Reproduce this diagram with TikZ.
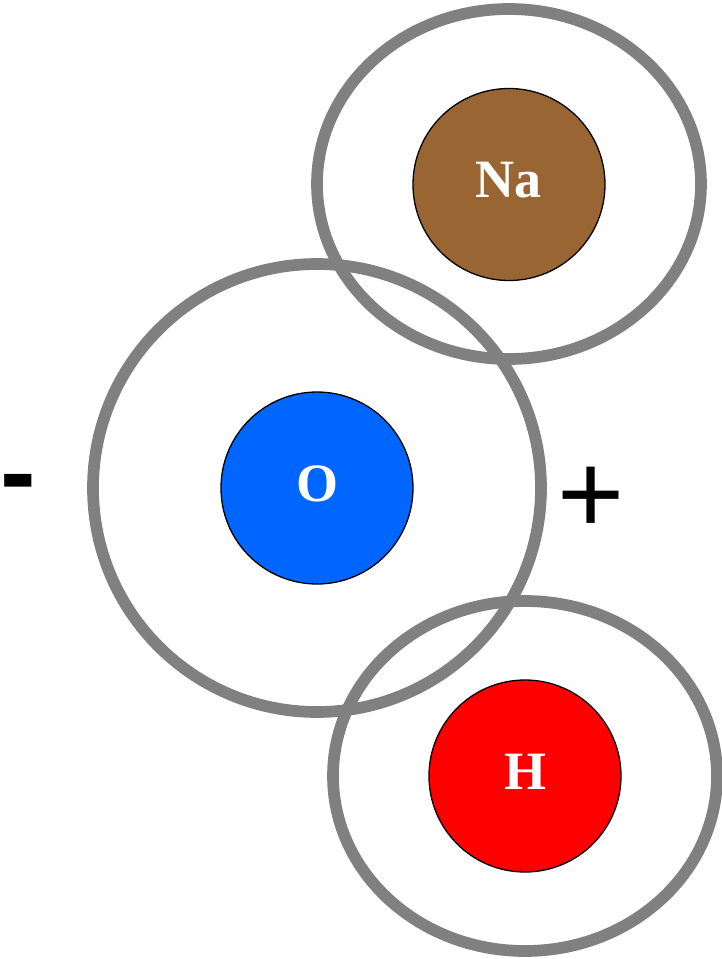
\documentclass[tikz,border=0pt]{standalone}
\usepackage{fontspec}
\setmainfont{Liberation Serif}
\newfontfamily\signfont{Liberation Sans}
\definecolor{ringgray}{HTML}{808080}
\definecolor{nabrown}{HTML}{996633}
\definecolor{oblue}{HTML}{0066FF}
\definecolor{hred}{HTML}{FF0000}
\tikzset{
  ring/.style={draw=ringgray, line width=11.7pt},
  core/.style={circle, draw=black, line width=1.3pt, minimum size=192pt, inner sep=0pt},
  sym/.style={text=white, font=\fontsize{54}{54}\selectfont\bfseries, anchor=base, inner sep=0pt},
}
\begin{document}
\begin{tikzpicture}[x=1pt,y=-1pt]
\useasboundingbox (0,0) rectangle (722,959);
% outer shells
\draw[ring] (317,488) circle (224);
\draw[ring] (509,184) ellipse [x radius=192, y radius=175];
\draw[ring] (525,776) ellipse [x radius=192, y radius=175];
% cores
\node[core, fill=nabrown] (na) at (509,184.5) {};
\node[core, fill=oblue] (o) at (317,488) {};
\node[core, fill=hred] (h) at (525,776) {};
\node[sym] (natext) at (508.5,197) {Na};
\node[sym] (otext) at (317,501) {O};
\node[sym] (htext) at (525,789.3) {H};
% charges
\node[anchor=base, inner sep=0pt, font=\signfont\bfseries\fontsize{107}{107}\selectfont] (minus) at (18,508) {-};
\node[anchor=base, inner sep=0pt, font=\signfont\fontsize{115}{115}\selectfont] (plus) at (591,533.5) {+};
\end{tikzpicture}
\end{document}
